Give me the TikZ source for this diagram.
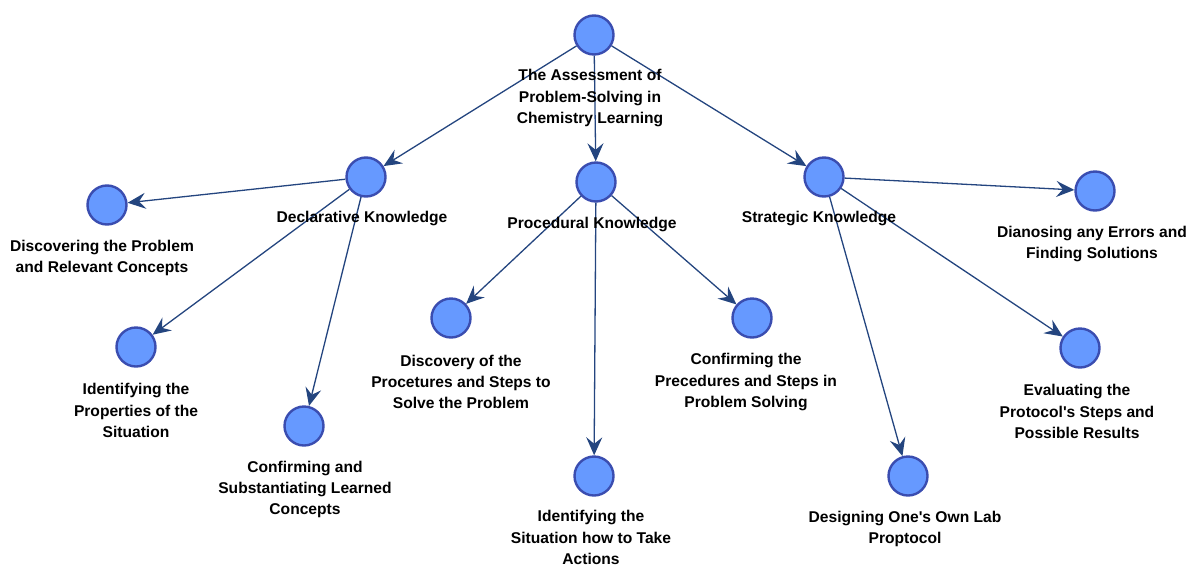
\documentclass[tikz,border=0pt]{standalone}
\usepackage{fontspec}
\newfontfamily\arialb{Liberation Sans}
\usetikzlibrary{arrows.meta}
\definecolor{cfill}{HTML}{6699FF}
\definecolor{cborder}{HTML}{3A4DB0}
\definecolor{cline}{HTML}{24457F}
\tikzset{
  dot/.style={circle,fill=cfill,draw=cborder,line width=2.4pt,minimum size=39pt,inner sep=0pt},
  lbl/.style={font=\arialb\fontsize{15.6}{21.3}\selectfont\bfseries,align=center,inner sep=0pt,text=black},
  edge/.style={draw=cline,line width=1.3pt,-{Stealth[length=18pt,width=16pt,inset=6.5pt]}}
}
\begin{document}
\begin{tikzpicture}[x=1pt,y=-1pt]
\useasboundingbox (0,0) rectangle (1190,565);
% nodes
\node[dot] (root) at (594,35) {};
\node[dot] (dec) at (366,177) {};
\node[dot] (pro) at (596,182) {};
\node[dot] (str) at (824,177) {};
\node[dot] (d1) at (107,205) {};
\node[dot] (d2) at (136,347) {};
\node[dot] (d3) at (304,426) {};
\node[dot] (p1) at (451,318) {};
\node[dot] (p2) at (594,476) {};
\node[dot] (p3) at (752,318) {};
\node[dot] (s1) at (1095,191) {};
\node[dot] (s2) at (1080,348) {};
\node[dot] (s3) at (908,476) {};
% edges
\draw[edge] (root) -- (dec);
\draw[edge] (root) -- (pro);
\draw[edge] (root) -- (str);
\draw[edge] (dec) -- (d1);
\draw[edge] (dec) -- (d2);
\draw[edge] (dec) -- (d3);
\draw[edge] (pro) -- (p1);
\draw[edge] (pro) -- (p2);
\draw[edge] (pro) -- (p3);
\draw[edge] (str) -- (s1);
\draw[edge] (str) -- (s2);
\draw[edge] (str) -- (s3);
% labels
\node[lbl] (lroot) at (590,98) {The Assessment of\\Problem-Solving in\\Chemistry Learning};
\node[lbl] (ldec) at (362,218.5) {Declarative Knowledge};
\node[lbl] (lpro) at (592,224.5) {Procedural Knowledge};
\node[lbl] (lstr) at (819,218.5) {Strategic Knowledge};
\node[lbl] (ld1) at (102,258) {Discovering the Problem\\and Relevant Concepts};
\node[lbl] (ld2) at (136,410.5) {Identifying the\\Properties of the\\Situation};
\node[lbl] (ld3) at (305,489.5) {Confirming and\\Substantiating Learned\\Concepts};
\node[lbl] (lp1) at (461,382) {Discovery of the\\Procetures and Steps to\\Solve the Problem};
\node[lbl] (lp2) at (591,537.5) {Identifying the\\Situation how to Take\\Actions};
\node[lbl] (lp3) at (746,382) {Confirming the\\Precedures and Steps in\\Problem Solving};
\node[lbl] (ls1) at (1092,244) {Dianosing any Errors and\\Finding Solutions};
\node[lbl] (ls2) at (1077,411.5) {Evaluating the\\Protocol's Steps and\\Possible Results};
\node[lbl] (ls3) at (905,529) {Designing One's Own Lab\\Proptocol};
\end{tikzpicture}
\end{document}
